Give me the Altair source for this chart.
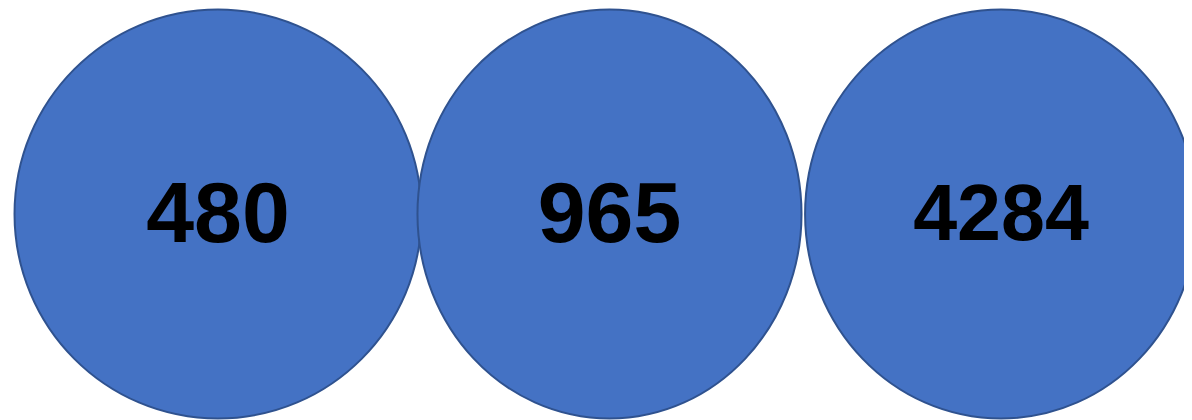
import altair as alt
import pandas as pd

# data
categories = ["A", "B", "C"]
values = [480, 965, 4284]

df = pd.DataFrame({"cat": categories, "value": values})

def ellipse(a):
    return f"M {-a} 0 A {a} 1 0 1 0 {a} 0 A {a} 1 0 1 0 {-a} 0 Z"

shapes = [ellipse(0.995), ellipse(0.939), ellipse(0.958)]

x_enc = alt.X("cat:N", sort=categories, axis=None,
              scale=alt.Scale(type="point", padding=0))

circles = alt.Chart(df).mark_point(
    filled=True, fill="#4472C4", stroke="#2F528F", strokeWidth=2, opacity=1
).encode(
    x=x_enc,
    shape=alt.Shape("cat:N", scale=alt.Scale(domain=categories, range=shapes), legend=None),
    size=alt.value(409 * 409),
)

labels = alt.Chart(df).mark_text(
    font="Liberation Sans", fontWeight="bold", color="black",
    baseline="middle", align="center", dy=2
).encode(
    x=x_enc,
    text=alt.Text("value:Q", format="d"),
    size=alt.Size("cat:N", scale=alt.Scale(type="ordinal", domain=categories, range=[86, 86, 79]), legend=None),
)

chart = alt.layer(circles, labels).properties(
    width=783, height=412,
    autosize=alt.AutoSizeParams(type="none"),
    padding={"left": 210, "top": 0, "right": 183, "bottom": 0},
).configure_view(stroke=None)

chart.save("out.html", embed_options={"renderer": "svg", "actions": False})
